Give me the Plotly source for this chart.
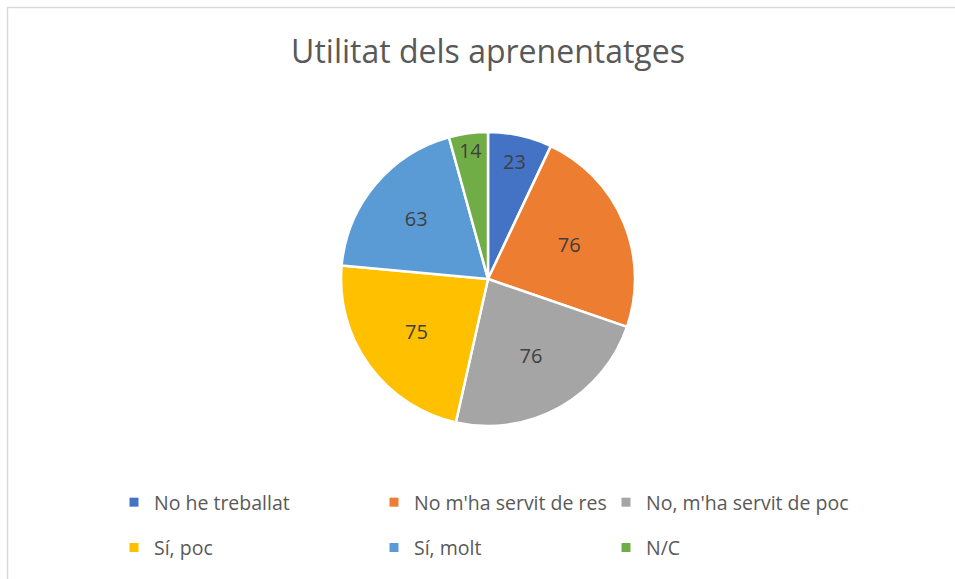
import plotly.graph_objects as go

categories = ["No he treballat", "No m'ha servit de res", "No, m'ha servit de poc",
              "Sí, poc", "Sí, molt", "N/C"]
values = [23, 76, 76, 75, 63, 14]
colors = ["#4472C4", "#ED7D31", "#A5A5A5", "#FFC000", "#5B9BD5", "#70AD47"]
title_text = "Utilitat dels aprenentatges"

W, H = 955, 579
FONT = "'Open Sans', sans-serif"

# legend layout: three columns, two rows (column of each category)
legend_cols = ["legend", "legend2", "legend3", "legend", "legend2", "legend3"]
col_x = [114, 374, 606]  # left edges (px) of legend columns

fig = go.Figure()
fig.add_trace(go.Pie(
    labels=categories,
    values=values,
    sort=False,
    direction="clockwise",
    rotation=0,
    marker=dict(colors=colors, line=dict(color="white", width=2.5)),
    textinfo="value",
    textposition="inside",
    insidetextorientation="horizontal",
    textfont=dict(family=FONT, size=20, color="#404040"),
    domain=dict(x=[341 / W, 635 / W], y=[1 - 426 / H, 1 - 132 / H]),
    showlegend=False,
    hoverinfo="label+value+percent",
))

# legend entries (one per category, same colours as the slices)
for cat, col, lg in zip(categories, colors, legend_cols):
    fig.add_trace(go.Scatter(
        x=[None], y=[None], mode="markers", name=cat,
        marker=dict(symbol="square", size=9, color=col),
        legend=lg, legendgroup=cat, showlegend=True, hoverinfo="skip",
    ))

leg_common = dict(orientation="v", y=1 - 483 / H, yanchor="top",
                  font=dict(family=FONT, size=19.5, color="#595959"),
                  tracegroupgap=17, bgcolor="rgba(0,0,0,0)", itemwidth=30)

fig.update_layout(
    width=W, height=H,
    margin=dict(l=0, r=0, t=0, b=0, autoexpand=False),
    paper_bgcolor="white",
    plot_bgcolor="white",
    xaxis=dict(visible=False),
    yaxis=dict(visible=False),
    title=dict(text=title_text, x=488 / W, xanchor="center", y=1 - 52 / H,
               yanchor="middle", font=dict(family=FONT, size=32, color="#595959")),
    legend=dict(x=col_x[0] / W, xanchor="left", **leg_common),
    legend2=dict(x=col_x[1] / W, xanchor="left", **leg_common),
    legend3=dict(x=col_x[2] / W, xanchor="left", **leg_common),
    shapes=[dict(type="rect", xref="paper", yref="paper",
                 x0=7.5 / W, x1=1.02, y0=-0.02, y1=1 - 7.5 / H,
                 line=dict(color="#D9D9D9", width=1.5), fillcolor="rgba(0,0,0,0)")],
)

fig.write_html("out.html", config={"displayModeBar": False},
               post_script="document.body.style.margin='0px';")
